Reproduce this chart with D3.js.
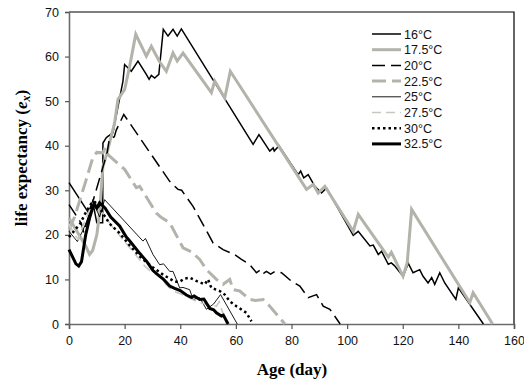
<!DOCTYPE html>
<html>
<head>
<meta charset="utf-8">
<script src="https://cdn.jsdelivr.net/npm/d3@7"></script>
<style>
  body { margin: 0; background: #fff; }
  svg { display: block; }
  .tick text { font-family: "Liberation Sans", Arial, sans-serif; font-size: 12.5px; fill: #111; }
</style>
</head>
<body>
<div id="chart"></div>
<script>
// temperatures shown in the legend
const temps = ["16°C", "17.5°C", "20°C", "22.5°C", "25°C", "27.5°C", "30°C", "32.5°C"];
const xTicks = [0, 20, 40, 60, 80, 100, 120, 140, 160];
const yTicks = [0, 10, 20, 30, 40, 50, 60, 70];

// [age (day), life expectancy]
const ex16 = [[0,31.7],[7,25],[8.5,27.5],[10,22.7],[12.1,22.7],[12.2,40.6],[13.4,41.8],[14,42.1],[15.8,42.9],
  [19.4,54.5],[20,58.2],[22.4,56.7],[24.8,59],[27.8,56],[28.8,54.9],[29.6,55.8],[30.8,55.2],[32.3,56],
  [33.9,66.1],[35.6,64.6],[37.4,66.1],[38.9,64.6],[40.4,66.2],[66.2,40.3],[68.3,42.5],[72.2,38.8],
  [73.4,39.5],[73.8,38.8],[75.5,40],[82.4,33.5],[83.3,34.3],[84.4,32.8],[86,33.5],[88.4,30.9],
  [90.8,29.4],[92.6,30.5],[102.2,19.9],[104,20.8],[108.2,17.5],[109.4,17.7],[111.2,15.6],[112.4,16.3],
  [114.8,13.4],[115.9,13.7],[117,13.1],[120.1,10.7],[122,13.6],[123.7,11.5],[126.1,12.2],[127.3,10.7],
  [129.1,9.2],[130.4,10.4],[131.5,8.9],[133.3,11.5],[135.1,9.2],[139.1,5.5],[140,8.1],[149,0]];
const ex175 = [[0,23.8],[6,17.5],[7.4,15.6],[8.5,16.5],[10,20],[11,24.9],[12.2,35.4],[13.5,38],[14.6,40.7],
  [16.4,45.1],[17.6,50.4],[20,52.6],[21.8,57.8],[24,65],[27.8,60.1],[29.6,62.3],[32.4,59],[35,56.7],
  [37.4,60.8],[38.9,59],[41,60.8],[51.2,51.9],[52.4,54.5],[56,50.7],[58,56.7],[85.4,30.2],[87.8,31.3],
  [89.6,29.4],[92,30.9],[102.2,20.8],[104,24.6],[114.8,15],[115.9,16.1],[120.1,10.7],[121.6,13.7],
  [123.2,25.7],[144.1,4.8],[145.3,7],[152.3,0]];
const ex20 = [[0,26.8],[4.5,22.5],[5.3,20.5],[13.7,38.4],[14.5,41.5],[16.3,42],[17,43.5],[19.7,47],
  [36.2,32],[39.2,30.2],[40.5,30],[44.6,26.4],[51.8,18.2],[55.4,16.7],[57.9,16],[59,15.8],[62,14.5],
  [65,13.3],[67.4,11.5],[69,12.2],[70,11.4],[71,11.8],[72.5,11.2],[74,11.8],[76.4,11.5],[80,9.6],
  [83,8.5],[86,5.9],[89,6.6],[91.4,4],[93.8,3.3],[97.5,0]];
const ex225 = [[0,21.2],[2,24],[4,28],[6,32],[8.7,37.6],[10,38.5],[12.2,38.4],[13,39.5],[14,38],[20,34.7],
  [24.2,30.6],[25.4,30.9],[31.4,24.9],[33,24],[36.2,22.7],[41,17.1],[44,16.2],[47,14.5],[49.4,12.2],
  [53,10],[55.4,8.9],[57.8,10],[59,7.7],[61.4,7.4],[65,5.5],[67,5.3],[69.8,5.5],[72.2,4],[77.6,0]];
const ex25 = [[0,20.8],[3,18.5],[5,21],[7,24],[8,26],[9,27],[10,25.5],[11,24],[12.8,27.9],[26.6,18.6],
  [27.5,19.2],[30.2,15.6],[32.6,13.3],[34,13.5],[36.2,11.8],[37.4,11.8],[39.8,8.1],[41,8.2],[43.4,7.7],
  [44.6,5.5],[47,5.9],[49.4,3.3],[52,4.5],[54.5,6.6],[60.5,0]];
const ex275 = [[0,22.5],[2,20],[3.5,19],[5,22],[7,25],[9,27.5],[10.5,26.5],[13,24],[16,21.5],[20,18.5],
  [24,15.5],[27.2,13],[30,11.5],[32.6,10.7],[35,8.8],[37.4,7.4],[40,6.8],[42.2,6.2],[45,5.3],[47,4.8],
  [50,4.3],[53,4],[54,5],[55,3],[56.8,0]];
const ex30 = [[0,19.5],[2,21],[4,22.5],[6,25],[8,27],[9,27.5],[10,27],[12,25],[14.6,22.5],[18,20.5],
  [22,17.5],[26,14.8],[30,12.8],[34,11],[38,9.5],[39.8,9.5],[41.6,10.2],[43.4,10.4],[46,9.6],[48.8,8.9],
  [50,10],[51.2,8.1],[54.2,7.4],[56,6.6],[57.8,5.1],[60.2,4],[63.8,2.5],[65.6,0.6]];
const ex325 = [[0,16.7],[2.5,13.5],[3.5,13],[4.5,14],[6,20],[7.5,24],[9,27],[10,26],[11,27.2],[13,26],
  [15,24],[18.2,22],[20.6,19.5],[22,18.5],[25.5,15.8],[28,14],[30.2,12],[32,11],[34,10],[36.2,8.5],
  [38,8],[40,7.5],[42.2,6.5],[44,6],[45,6.3],[47,5.5],[48.5,5.6],[50.6,3.5],[52,3.2],[53,2.5],
  [54.8,1.8],[55.5,2],[57.2,0]];

const seriesData = [ex16, ex175, ex20, ex225, ex25, ex275, ex30, ex325];
const styles = [
  { color: "#000", width: 1.5, dash: null },
  { color: "#b3b3ab", width: 3, dash: null },
  { color: "#000", width: 1.5, dash: "13,6" },
  { color: "#b3b3ab", width: 3, dash: "14,6" },
  { color: "#000", width: 0.9, dash: null },
  { color: "#c8c8c0", width: 1.6, dash: "9,5" },
  { color: "#000", width: 2.5, dash: "2.5,3" },
  { color: "#000", width: 3, dash: null }
];

const W = 524, H = 385;
const margin = { left: 69, right: 10, top: 12, bottom: 61 };

const svg = d3.select("#chart").append("svg")
  .attr("width", W).attr("height", H);

const x = d3.scaleLinear().domain([0, 160]).range([margin.left, W - margin.right]);
const y = d3.scaleLinear().domain([0, 70]).range([H - margin.bottom, margin.top]);

// frame top + right
svg.append("path")
  .attr("d", `M${x(0)},${y(70)}H${x(160)}V${y(0)}`)
  .attr("fill", "none").attr("stroke", "#000").attr("stroke-width", 1.2);

const xAxis = svg.append("g")
  .attr("transform", `translate(0,${y(0)})`)
  .call(d3.axisBottom(x).tickValues(xTicks).tickSize(5).tickPadding(7));
const yAxis = svg.append("g")
  .attr("transform", `translate(${x(0)},0)`)
  .call(d3.axisLeft(y).tickValues(yTicks).tickSize(4).tickPadding(6));
[xAxis, yAxis].forEach(g => {
  g.select(".domain").attr("stroke", "#6b6b6b").attr("stroke-width", 1.6);
  g.selectAll(".tick line").attr("stroke", "#555").attr("stroke-width", 1.2);
});

const line = d3.line().x(d => x(d[0])).y(d => y(d[1]));

svg.append("g").selectAll("path")
  .data(seriesData)
  .join("path")
  .attr("d", line)
  .attr("fill", "none")
  .attr("stroke", (d, i) => styles[i].color)
  .attr("stroke-width", (d, i) => styles[i].width)
  .attr("stroke-dasharray", (d, i) => styles[i].dash)
  .attr("stroke-linejoin", "miter");

// legend
const legend = svg.append("g").attr("transform", "translate(372,34)");
const rows = legend.selectAll("g").data(temps).join("g")
  .attr("transform", (d, i) => `translate(0,${i * 15.7})`);
rows.append("line")
  .attr("x1", 0).attr("x2", 29).attr("y1", 0).attr("y2", 0)
  .attr("stroke", (d, i) => styles[i].color)
  .attr("stroke-width", (d, i) => styles[i].width)
  .attr("stroke-dasharray", (d, i) => styles[i].dash);
rows.append("text")
  .attr("x", 32).attr("y", 4.5)
  .style("font-family", "'Liberation Sans', Arial, sans-serif")
  .style("font-size", "12.5px")
  .attr("fill", "#111")
  .text(d => d);

// axis titles
svg.append("text")
  .attr("x", 292).attr("y", 375)
  .attr("text-anchor", "middle")
  .style("font-family", "'Liberation Serif', 'Times New Roman', serif")
  .style("font-weight", "bold").style("font-size", "17px")
  .text("Age (day)");

const yt = svg.append("text")
  .attr("transform", "translate(27,158) rotate(-90)")
  .attr("text-anchor", "middle")
  .style("font-family", "'Liberation Serif', 'Times New Roman', serif")
  .style("font-weight", "bold").style("font-size", "17px");
yt.append("tspan").text("life expectancy (");
yt.append("tspan").style("font-style", "italic").text("e");
yt.append("tspan").style("font-style", "italic").style("font-size", "12px").attr("dy", 3).text("x");
yt.append("tspan").attr("dy", -3).text(")");
</script>
</body>
</html>
